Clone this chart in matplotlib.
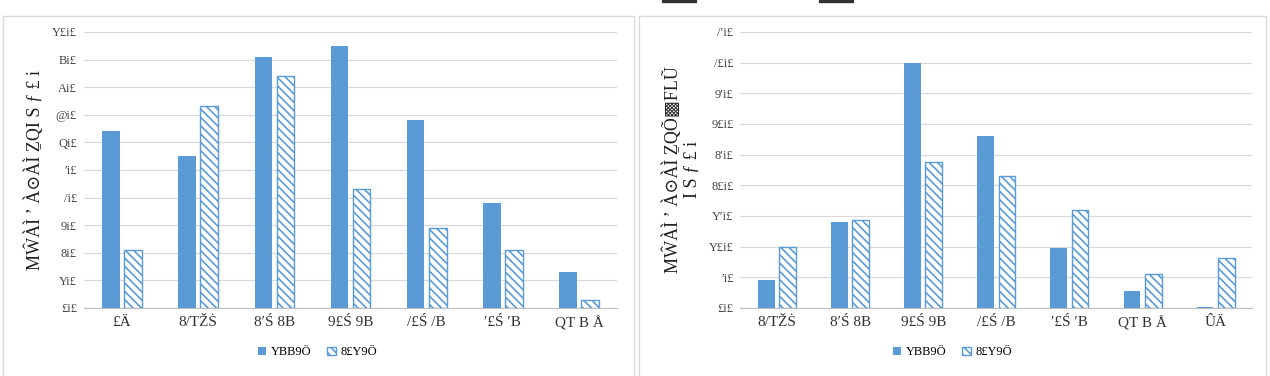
import matplotlib.pyplot as plt
from matplotlib.patches import Rectangle
import numpy as np

# garbled labels as they appear in the reference
cats_left = ["£Ä", "8/TŽṠ", "8′Ś 8B", "9£Ś 9B", "/£Ś /B", "′£Ś ′B", "QT B Å"]
cats_right = ["8/TŽṠ", "8′Ś 8B", "9£Ś 9B", "/£Ś /B", "′£Ś ′B", "QT B Å", "ÛÄ"]
series_names = ["YBB9Ö", "8£Y9Ö"]

left_1993 = [6.4, 5.5, 9.1, 9.5, 6.8, 3.8, 1.3]
left_2013 = [2.1, 7.3, 8.4, 4.3, 2.9, 2.1, 0.3]
right_1993 = [4.6, 14.0, 39.9, 28.0, 9.7, 2.7, 0.1]
right_2013 = [9.9, 14.4, 23.8, 21.5, 15.9, 5.6, 8.1]

left_ticks = ["£i£", "Yi£", "8i£", "9i£", "/i£", "′i£", "Qi£", "@i£", "Ai£", "Bi£", "Y£i£"]
right_ticks = ["£i£", "′i£", "Y£i£", "Y′i£", "8£i£", "8′i£", "9£i£", "9′i£", "/£i£", "/′i£"]

ylabel_left = "MŴÀÌ ʼ À⊙ÀÌ ẔQI S ƒ £ i"
ylabel_right = "MŴÀÌ ʼ À⊙ÀÌ ẔQÕ▩FLŨ\nI S ƒ £ i"

blue = "#5b9bd5"
serif = ["Liberation Serif", "DejaVu Serif"]
plt.rcParams["hatch.linewidth"] = 1.2
plt.rcParams["hatch.color"] = blue

fig = plt.figure(figsize=(12.7, 3.76), dpi=100)

# chart frames
fig.patches.append(Rectangle((0.002, -0.05), 0.497, 1.008, transform=fig.transFigure,
                             fill=False, edgecolor="#d9d9d9", lw=1))
fig.patches.append(Rectangle((0.503, -0.05), 0.494, 1.008, transform=fig.transFigure,
                             fill=False, edgecolor="#d9d9d9", lw=1))
# cut-off title strokes at top
fig.patches.append(Rectangle((0.521, 0.995), 0.027, 0.006, transform=fig.transFigure, color="#333333"))
fig.patches.append(Rectangle((0.645, 0.995), 0.027, 0.006, transform=fig.transFigure, color="#333333"))


def draw(ax, cats, a, b, ticks, step, ylabel, legend_x):
    x = np.arange(len(cats))
    w = 0.23
    ax.bar(x - 0.145, a, w, color=blue, label=series_names[0], zorder=3)
    ax.bar(x + 0.145, b, w, facecolor="white", edgecolor=blue, hatch="\\\\\\\\",
           lw=1, label=series_names[1], zorder=3)
    ax.set_xlim(-0.5, len(cats) - 0.5)
    ax.set_ylim(0, step * (len(ticks) - 1))
    ax.set_yticks(np.arange(len(ticks)) * step)
    ax.set_yticklabels(ticks, family=serif, fontsize=9, color="#444444")
    ax.set_xticks(x)
    ax.set_xticklabels(cats, family=serif, fontsize=11, color="#333333")
    ax.tick_params(length=0, pad=6)
    ax.tick_params(axis="y", pad=5)
    ax.grid(axis="y", color="#d9d9d9", lw=0.9, zorder=0)
    for s in ["top", "right", "left"]:
        ax.spines[s].set_visible(False)
    ax.spines["bottom"].set_color("#bfbfbf")
    ax.set_ylabel(ylabel, family=serif, fontsize=13, color="#222222", labelpad=6,
                  linespacing=1.1)
    ax.legend(loc="center", bbox_to_anchor=(legend_x, 0.063), bbox_transform=fig.transFigure,
              ncol=2, frameon=False, prop={"family": serif, "size": 9},
              handlelength=0.7, handleheight=0.7, columnspacing=1.2, handletextpad=0.4)


ax1 = fig.add_axes([0.066, 0.181, 0.420, 0.734])
draw(ax1, cats_left, left_1993, left_2013, left_ticks, 1, ylabel_left, 0.250)

ax2 = fig.add_axes([0.583, 0.181, 0.403, 0.734])
draw(ax2, cats_right, right_1993, right_2013, right_ticks, 5, ylabel_right, 0.750)

plt.savefig("out.png", dpi=100)
